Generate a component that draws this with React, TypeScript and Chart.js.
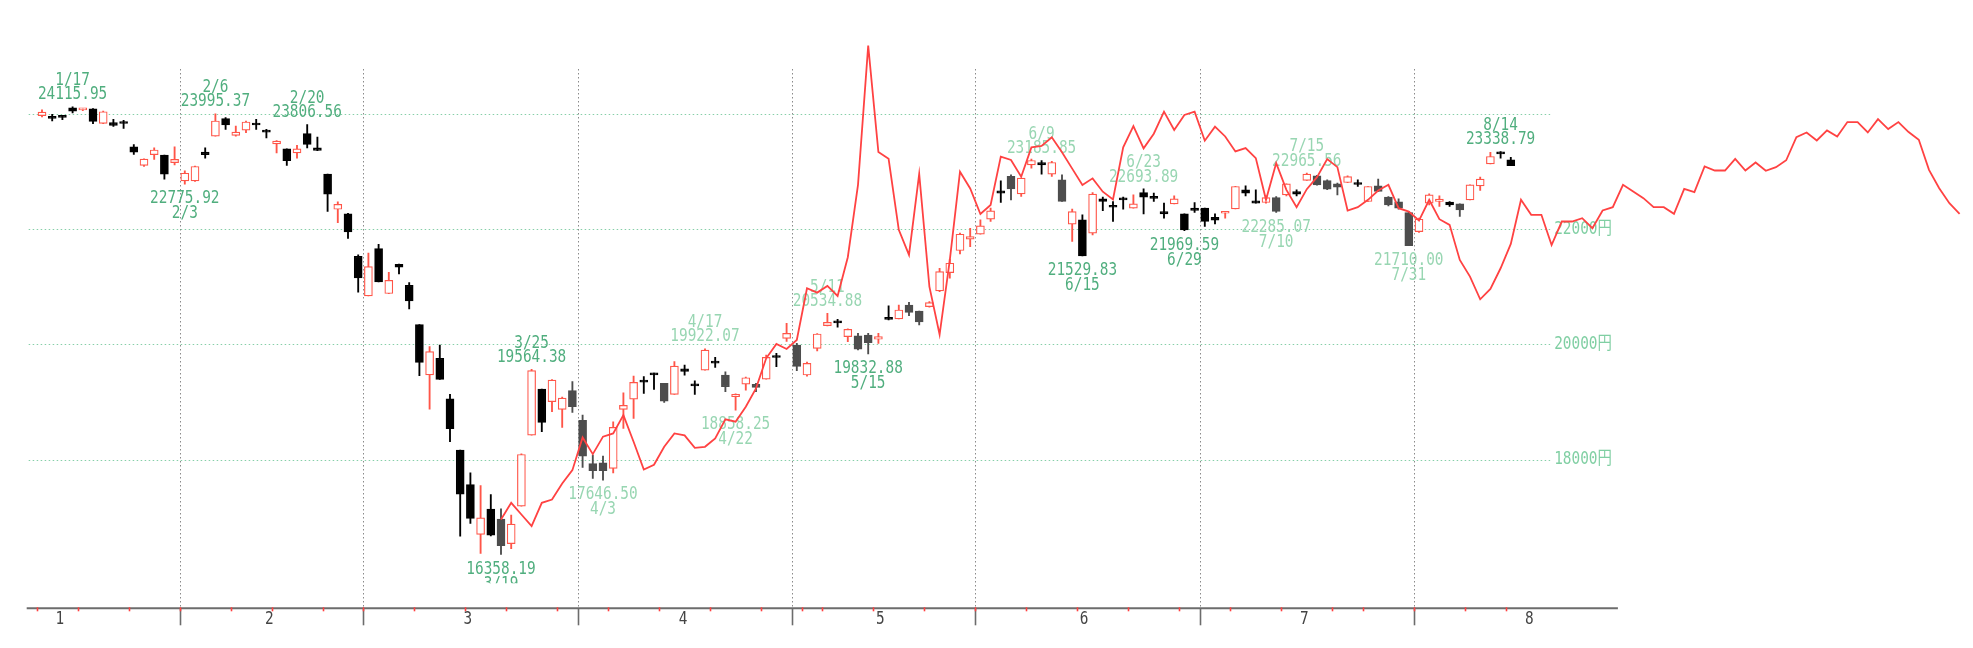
import { useEffect, useRef } from 'react'
import { Chart, registerables } from 'chart.js'
import type { Plugin } from 'chart.js'

Chart.register(...registerables)

// trading days shown on the axis (2020), 1/10 .. 10/20
const tradingDays = [
  '1/10', '1/14', '1/15', '1/16', '1/17', '1/20', '1/21', '1/22', '1/23', '1/24', '1/27', '1/28', '1/29', '1/30', '1/31',
  '2/3', '2/4', '2/5', '2/6', '2/7', '2/10', '2/12', '2/13', '2/14', '2/17', '2/18', '2/19', '2/20', '2/21', '2/25', '2/26', '2/27', '2/28',
  '3/2', '3/3', '3/4', '3/5', '3/6', '3/9', '3/10', '3/11', '3/12', '3/13', '3/16', '3/17', '3/18', '3/19', '3/23', '3/24', '3/25', '3/26', '3/27', '3/30', '3/31',
  '4/1', '4/2', '4/3', '4/6', '4/7', '4/8', '4/9', '4/10', '4/13', '4/14', '4/15', '4/16', '4/17', '4/20', '4/21', '4/22', '4/23', '4/24', '4/27', '4/28', '4/30',
  '5/1', '5/7', '5/8', '5/11', '5/12', '5/13', '5/14', '5/15', '5/18', '5/19', '5/20', '5/21', '5/22', '5/25', '5/26', '5/27', '5/28', '5/29',
  '6/1', '6/2', '6/3', '6/4', '6/5', '6/8', '6/9', '6/10', '6/11', '6/12', '6/15', '6/16', '6/17', '6/18', '6/19', '6/22', '6/23', '6/24', '6/25', '6/26', '6/29', '6/30',
  '7/1', '7/2', '7/3', '7/6', '7/7', '7/8', '7/9', '7/10', '7/13', '7/14', '7/15', '7/16', '7/17', '7/20', '7/21', '7/22', '7/27', '7/28', '7/29', '7/30', '7/31',
  '8/3', '8/4', '8/5', '8/6', '8/7', '8/11', '8/12', '8/13', '8/14', '8/17', '8/18', '8/19', '8/20', '8/21', '8/24', '8/25', '8/26', '8/27', '8/28', '8/31',
  '9/1', '9/2', '9/3', '9/4', '9/7', '9/8', '9/9', '9/10', '9/11', '9/14', '9/15', '9/16', '9/17', '9/18', '9/23', '9/24', '9/25', '9/28', '9/29', '9/30',
  '10/1', '10/2', '10/5', '10/6', '10/7', '10/8', '10/9', '10/12', '10/13', '10/14', '10/15', '10/16', '10/19', '10/20',
]

// candles, 1/14 .. 8/17
const candleFrom = '1/14'
const opens = [
  23964, 23935, 23952, 24098, 24063, 24081, 23830, 23841, 23840, 23421, 23100, 23286, 23281, 23150,
  22831, 22831, 23333, 23608, 23911, 23619, 23713, 23830, 23707, 23473, 23386, 23316, 23654, 23403, 22948, 22340, 22261, 21526,
  20840, 21659, 20880, 21387, 21023, 20341, 19470, 19757, 19057, 18166, 17571, 16705, 17143, 16970, 16547, 17195, 18427, 19225, 19005, 18872, 19196,
  18681, 17935, 17946, 17848, 18872, 19051, 19381, 19500, 19323, 19132, 19577, 19300, 19554, 19710, 19467, 19092, 19311, 19306, 19398, 19785, 20104,
  19988, 19468, 19930, 20324, 20405, 20133, 20145, 20162, 20087, 20462, 20439, 20682, 20578, 20653, 20925, 21243, 21625, 21821,
  21908, 22168, 22660, 22909, 22608, 23111, 23151, 22949, 22851, 22082, 22157, 21925, 22521, 22399, 22533, 22359, 22631, 22545, 22301, 22434, 22261, 22359,
  22359, 22200, 22272, 22347, 22677, 22486, 22457, 22544, 22591, 22648, 22839, 22920, 22839, 22781, 22804, 22793, 22475, 22746, 22550, 22470, 22284,
  21954, 22446, 22475, 22463, 22434, 22504, 22746, 23128, 23330, 23198,
]
const highs = [
  24063, 23987, 23965, 24115.95, 24090, 24085, 24040, 23900, 23880, 23460, 23215, 23403, 23281, 23421,
  23006, 23090, 23403, 23995.37, 23929, 23783, 23870, 23900, 23725, 23532, 23386, 23450, 23806.56, 23590, 22948, 22470, 22270, 21549,
  21580, 21734, 21249, 21390, 21069, 20341, 19959, 19988, 19132, 18166, 17773, 17553, 17397, 17149, 17039, 18100, 19564.38, 19225, 19389, 19084, 19352,
  18773, 18080, 18062, 18658, 19161, 19450, 19439, 19500, 19323, 19699, 19641, 19369, 19922.07, 19774, 19525, 19140, 19430, 19323, 19815, 19844, 20365,
  20017, 19690, 20185, 20534.88, 20434, 20270, 20190, 20190, 20190, 20665, 20682, 20729, 20578, 20740, 21318, 21474, 21926, 22012,
  22157, 22359, 22833, 22938, 22880, 23210, 23185.85, 23169, 22938, 22342, 22244, 22631, 22550, 22475, 22550, 22590, 22693.89, 22619, 22446, 22573, 22261, 22457,
  22359, 22261, 22301, 22740, 22747, 22677, 22573, 22562, 22781, 22677, 22965.56, 22930, 22850, 22793, 22920, 22850, 22735, 22862, 22560, 22520, 22301,
  22186, 22608, 22573, 22475, 22434, 22764, 22897, 23325, 23338.79, 23240,
]
const lows = [
  23941, 23870, 23893, 24010, 24050, 23824, 23825, 23778, 23743, 23290, 23082, 23205, 22860, 23111,
  22775.92, 22825, 23228, 23608, 23724, 23607, 23666, 23725, 23578, 23315, 23100, 23228, 23403, 23356, 22305, 22110, 21833, 20902,
  20838, 21081, 20879, 21220, 20613, 19456, 18878, 19392, 18311, 16674, 16894, 16378, 16680, 16358.19, 16460, 17195, 18427, 18484, 18831, 18560, 18820,
  17866, 17675, 17646.5, 17771, 18542, 18716, 19150, 19219, 18993, 19132, 19467, 19132, 19554, 19600, 19178, 18858.25, 19207, 19179, 19398, 19612, 20050,
  19543, 19450, 19884, 20320, 20295, 20046, 19901, 19832.88, 20017, 20422, 20439, 20497, 20335, 20642, 20913, 21145, 21567, 21694,
  21908, 22128, 22457, 22504, 22562, 23053, 22949, 22909, 22475, 21781, 21529.83, 21896, 22318, 22128, 22342, 22359, 22261, 22475, 22186, 22434, 21969.59, 22284,
  22041, 22087, 22186, 22347, 22573, 22446, 22446, 22285.07, 22573, 22573, 22839, 22760, 22680, 22590, 22800, 22735, 22475, 22648, 22400, 22340, 21710,
  21937, 22417, 22388, 22388, 22215, 22504, 22666, 23128, 23227, 23094,
]
const closes = [
  24025, 23916, 23933, 24041, 24083, 23864, 24031, 23795, 23827, 23330, 23210, 23368, 22948, 23205,
  22965, 23082, 23287, 23870, 23800, 23678, 23853, 23800, 23678, 23520, 23181, 23386, 23462, 23360, 22600, 22426, 21948, 21150,
  21347, 21081, 21110, 21335, 20751, 19687, 19872, 19392, 18536, 17403, 16981, 16993, 16692, 16512, 16883, 18091, 19543, 18646, 19381, 19068, 18918,
  18062, 17808, 17808, 18560, 18941, 19340, 19346, 19470, 19016, 19624, 19531, 19280, 19901, 19675, 19265, 19132, 19421, 19254, 19774, 19771, 20190,
  19619, 19670, 20179, 20381, 20370, 20260, 19914, 20030, 20133, 20433, 20595, 20552, 20388, 20723, 21261, 21405, 21908, 21868,
  22053, 22313, 22619, 22695, 22880, 23186, 23111, 23151, 22475, 22301, 21530, 22602, 22475, 22376, 22504, 22434, 22550, 22530, 22261, 22521, 21983, 22319,
  22128, 22150, 22295, 22735, 22620, 22446, 22544, 22301, 22781, 22602, 22949, 22764, 22689, 22723, 22908, 22770, 22735, 22648, 22417, 22359, 21710,
  22168, 22590, 22515, 22417, 22330, 22764, 22862, 23255, 23300, 23094,
]

// comparison line, 3/19 .. 10/20
const compareFrom = '3/19'
const compareLine = [
  16964, 17253, 17050, 16848, 17253, 17310, 17588, 17819,
  18386, 18097, 18400, 18456, 18773, 18311, 17830, 17912, 18224, 18456, 18421, 18207, 18224, 18370, 18700, 18658, 18918, 19236, 19757, 20006, 19919,
  20075, 20971, 20896, 21012, 20838, 21509, 22764, 25176, 23331, 23215, 21983, 21550, 22955, 21000, 20170, 21461, 22992, 22700,
  22258, 22414, 23252, 23194, 22905, 23413, 23437, 23587, 23330, 23045, 22761, 22876, 22645, 22512, 23413, 23783, 23396, 23650, 24032, 23714, 23974, 24032,
  23529, 23772, 23602, 23342, 23400, 23227, 22504, 23140, 22677, 22376, 22689, 22897, 23209, 23070, 22319, 22376, 22504, 22666, 22764, 22359, 22301,
  22145, 22504, 22168, 22070, 21463, 21173, 20780, 20960, 21318, 21740, 22504, 22244, 22244, 21720, 22128, 22128, 22186, 22012, 22319, 22376,
  22764, 22648, 22533, 22376, 22376, 22261, 22694, 22637, 23082, 23012, 23012, 23215, 23012, 23151, 23007, 23070, 23190, 23591, 23672, 23533,
  23706, 23602, 23851, 23851, 23672, 23903, 23730, 23851, 23678, 23545, 23024, 22706, 22446, 22261,
]

const priceGrid = [18000, 20000, 22000, 24000]
const priceTickLabels = [18000, 20000, 22000]
const monthNames = ['1', '2', '3', '4', '5', '6', '7', '8']
const monthLabelAt = [2.76, 23.28, 42.76, 63.84, 83.2, 103.16, 124.76, 146.81]

const highNotes = ['1/17', '2/6', '2/20', '3/25', '4/17', '5/11', '6/9', '6/23', '7/15', '8/14']
const lowNotes = ['2/3', '3/19', '4/3', '4/22', '5/15', '6/15', '6/29', '7/10', '7/31']
const paleNotes = new Set(['4/3', '4/17', '4/22', '5/11', '6/9', '6/23', '7/15', '7/10', '7/31'])
const greyDays = new Set([
  '3/19', '3/31', '4/1', '4/2', '4/3', '4/13', '4/21', '4/24', '5/1', '5/14', '5/15', '5/21', '5/22',
  '6/4', '6/11', '7/10', '7/16', '7/17', '7/20', '7/28', '7/29', '7/30', '7/31', '8/7',
])

const UP = '#ff5548'
const LINE = '#ff4242'
const FONT = '18px "DejaVu Sans Mono", "Noto Sans CJK JP", monospace'

const startIdx = tradingDays.indexOf(candleFrom)
const lastIdx = startIdx + opens.length - 1
const cmpIdx = tradingDays.indexOf(compareFrom)

const monthOf = (d: string) => Number(d.split('/')[0])
const weekdayOf = (d: string) => {
  const [m, day] = d.split('/').map(Number)
  return new Date(2020, m - 1, day).getDay()
}

function squeezed(ctx: CanvasRenderingContext2D, s: string, x: number, y: number, color: string, align: CanvasTextAlign = 'center') {
  ctx.save()
  ctx.fillStyle = color
  ctx.font = FONT
  ctx.textBaseline = 'middle'
  ctx.textAlign = align
  ctx.translate(x, y)
  ctx.scale(0.8, 1)
  ctx.fillText(s, 0, 0)
  ctx.restore()
}

// end of the last month that has candles
function axisEndPx(chart: Chart) {
  const x = chart.scales.x
  const slot = x.getPixelForValue(1) - x.getPixelForValue(0)
  const endMonth = monthOf(tradingDays[lastIdx])
  let endIdx = lastIdx
  while (endIdx + 1 < tradingDays.length && monthOf(tradingDays[endIdx + 1]) === endMonth) endIdx++
  return x.getPixelForValue(endIdx) + slot / 2
}

const frame: Plugin<'bar'> = {
  id: 'frame',
  beforeDatasetsDraw(chart) {
    const { ctx, chartArea: a, scales } = chart
    const x = scales.x
    const y = scales.y
    const slot = x.getPixelForValue(1) - x.getPixelForValue(0)
    const labelRight = axisEndPx(chart as unknown as Chart) - 6

    ctx.save()
    ctx.font = FONT
    const labelW = ctx.measureText('00000').width * 0.8 + 14.4
    ctx.restore()

    // price grid
    ctx.save()
    ctx.strokeStyle = '#86cfa8'
    ctx.lineWidth = 1
    ctx.setLineDash([1.5, 2.5])
    for (const v of priceGrid) {
      const py = Math.round(y.getPixelForValue(v)) + 0.5
      ctx.beginPath()
      ctx.moveTo(a.left + 2, py)
      ctx.lineTo(labelRight - labelW - 4, py)
      ctx.stroke()
    }
    // month separators
    ctx.strokeStyle = '#8a8a8a'
    for (let j = startIdx + 1; j <= lastIdx; j++) {
      if (monthOf(tradingDays[j]) === monthOf(tradingDays[j - 1])) continue
      const px = Math.round(x.getPixelForValue(j) - slot / 2) + 0.5
      ctx.beginPath()
      ctx.moveTo(px, a.top + 69)
      ctx.lineTo(px, a.bottom)
      ctx.stroke()
    }
    ctx.restore()

    for (const v of priceTickLabels) {
      squeezed(ctx, `${v}円`, labelRight, y.getPixelForValue(v), '#80cfa3', 'right')
    }

    // high / low notes
    ctx.save()
    ctx.beginPath()
    ctx.rect(a.left, a.top, a.right - a.left, a.bottom - a.top - 25)
    ctx.clip()
    for (const d of highNotes) {
      const j = tradingDays.indexOf(d)
      const v = highs[j - startIdx]
      const px = x.getPixelForValue(j)
      const py = y.getPixelForValue(v)
      const c = paleNotes.has(d) ? '#98d6b2' : '#50ae7e'
      squeezed(ctx, d, px, py - 26.5, c)
      squeezed(ctx, v.toFixed(2), px, py - 12, c)
    }
    for (const d of lowNotes) {
      const j = tradingDays.indexOf(d)
      const v = lows[j - startIdx]
      const px = x.getPixelForValue(j)
      const py = y.getPixelForValue(v)
      const c = paleNotes.has(d) ? '#98d6b2' : '#50ae7e'
      squeezed(ctx, v.toFixed(2), px, py + 14.4, c)
      squeezed(ctx, d, px, py + 29.5, c)
    }
    ctx.restore()
  },
  afterDraw(chart) {
    const { ctx, chartArea: a, scales } = chart
    const x = scales.x
    const slot = x.getPixelForValue(1) - x.getPixelForValue(0)
    const axisEnd = axisEndPx(chart as unknown as Chart)
    const base = a.bottom

    ctx.save()
    ctx.strokeStyle = '#6c6c6c'
    ctx.lineWidth = 2
    ctx.beginPath()
    ctx.moveTo(a.left, base)
    ctx.lineTo(axisEnd, base)
    ctx.stroke()

    ctx.lineWidth = 1.6
    for (let j = startIdx + 1; j <= lastIdx; j++) {
      if (monthOf(tradingDays[j]) === monthOf(tradingDays[j - 1])) continue
      const px = Math.round(x.getPixelForValue(j) - slot / 2) + 0.5
      ctx.beginPath()
      ctx.moveTo(px, base)
      ctx.lineTo(px, base + 17)
      ctx.stroke()
    }
    // week breaks
    ctx.strokeStyle = LINE
    for (let j = startIdx; j <= lastIdx; j++) {
      if (j === 0 || weekdayOf(tradingDays[j]) > weekdayOf(tradingDays[j - 1])) continue
      const px = Math.round(x.getPixelForValue(j) - slot / 2) + 0.5
      ctx.beginPath()
      ctx.moveTo(px, base - 1)
      ctx.lineTo(px, base + 3)
      ctx.stroke()
    }
    ctx.restore()

    monthNames.forEach((m, k) => {
      squeezed(ctx, m, x.getPixelForValue(monthLabelAt[k]), base + 11, '#444444')
    })
  },
}

export default function App() {
  const canvasRef = useRef<HTMLCanvasElement>(null)
  const chartRef = useRef<Chart | null>(null)

  useEffect(() => {
    if (!canvasRef.current) return
    chartRef.current?.destroy()

    const pick = (j: number) => (j >= startIdx && j <= lastIdx ? j - startIdx : -1)
    const bodies = tradingDays.map((_, j) => {
      const k = pick(j)
      return k < 0 ? null : [opens[k], closes[k]]
    })
    const wicks = tradingDays.map((_, j) => {
      const k = pick(j)
      return k < 0 ? null : [lows[k], highs[k]]
    })
    const dark = tradingDays.map(d => (greyDays.has(d) ? '#4d4d4d' : '#000000'))
    const isUp = tradingDays.map((_, j) => {
      const k = pick(j)
      return k >= 0 && closes[k] > opens[k]
    })
    const bodyFill = isUp.map((u, j) => (u ? '#ffffff' : dark[j]))
    const stroke = isUp.map((u, j) => (u ? UP : dark[j]))
    const line = tradingDays.map((_, j) => {
      const k = j - cmpIdx
      return k >= 0 && k < compareLine.length ? compareLine[k] : null
    })

    chartRef.current = new Chart(canvasRef.current, {
      type: 'bar',
      data: {
        labels: tradingDays,
        datasets: [
          {
            type: 'line',
            data: line,
            borderColor: LINE,
            borderWidth: 1.8,
            pointRadius: 0,
            tension: 0,
            order: 0,
          } as any,
          {
            type: 'bar',
            data: bodies as any,
            backgroundColor: bodyFill,
            borderColor: stroke,
            borderWidth: 1.2,
            borderSkipped: false,
            barThickness: 8,
            minBarLength: 2,
            grouped: false,
            order: 1,
          },
          {
            type: 'bar',
            data: wicks as any,
            backgroundColor: stroke,
            borderWidth: 0,
            barThickness: 1.2,
            grouped: false,
            order: 2,
          },
        ],
      },
      options: {
        responsive: false,
        devicePixelRatio: 1,
        animation: false,
        events: [],
        layout: { padding: { left: 26.7, right: 8.3, top: 0, bottom: 39.7 } },
        plugins: { legend: { display: false }, tooltip: { enabled: false } },
        scales: {
          x: { type: 'category', display: false, offset: true },
          y: { display: false, min: 15425, max: 25967 },
        },
      },
      plugins: [frame],
    })

    return () => chartRef.current?.destroy()
  }, [])

  return (
    <div style={{ position: 'fixed', left: 0, top: 0, width: 1973, height: 648, background: '#ffffff' }}>
      <canvas ref={canvasRef} width={1973} height={648} />
    </div>
  )
}
